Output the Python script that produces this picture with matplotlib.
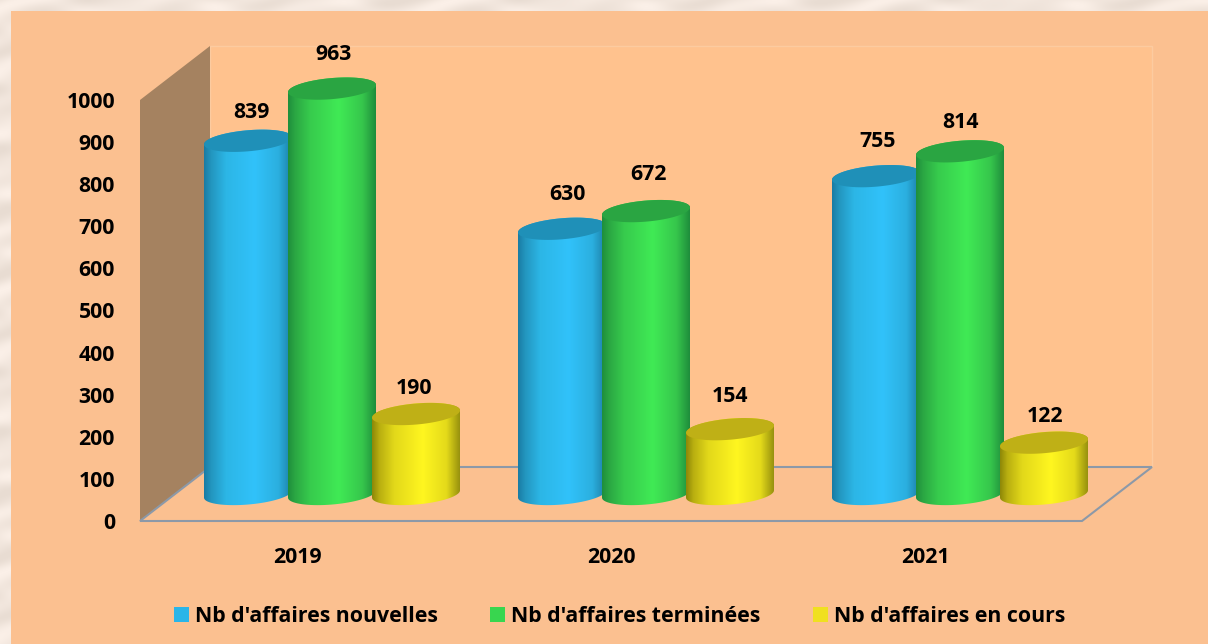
import numpy as np
import matplotlib
matplotlib.use("Agg")
import matplotlib.pyplot as plt
from matplotlib.colors import LinearSegmentedColormap
from matplotlib.patches import Patch, PathPatch, Polygon, Rectangle
from matplotlib.path import Path
from matplotlib.transforms import Affine2D

# ---- data ----
years = ["2019", "2020", "2021"]
series_names = ["Nb d'affaires nouvelles", "Nb d'affaires terminées", "Nb d'affaires en cours"]
nouvelles = [839, 630, 755]
terminees = [963, 672, 814]
en_cours = [190, 154, 122]
y_ticks = [0, 100, 200, 300, 400, 500, 600, 700, 800, 900, 1000]

# ---- style ----
W, H = 1208, 644
plt.rcParams["font.family"] = ["Open Sans", "DejaVu Sans"]
plt.rcParams["font.weight"] = "bold"
FS = 15.3
PANEL = "#FBC090"
BACK = "#FFC28E"
WALL = "#A58260"
EDGE = "#8C99A8"
stops = [0.0, 0.08, 0.25, 0.58, 0.85, 1.0]
body_colors = [
    ["#1A7CA4", "#2396BF", "#2CB6E6", "#31C2FA", "#2BAFDF", "#1C7FA6"],
    ["#1F8F3C", "#2BA743", "#37CB4D", "#40EA55", "#36C64C", "#1F8E3C"],
    ["#8E8808", "#B8AE10", "#E2D81A", "#FFF620", "#E4DA1A", "#98920E"],
]
top_colors = ["#1F90B8", "#2AA542", "#BFB016"]
swatch_colors = ["#2AB5E8", "#38D64F", "#F0E020"]

# plot planes in pixels (left, right, bottom, top) and depth of the box
L, R, B, T = 140, 1082, 521, 100
DX, DY = 70, 54


def plane_axes(fig, dx, dy):
    ax = fig.add_axes([(L + dx) / W, 1 - (B - dy) / H, (R - L) / W, (B - T) / H])
    ax.set_xlim(-0.5, 2.5)
    ax.set_ylim(0, 1000)
    ax.patch.set_alpha(0)
    for s in ax.spines.values():
        s.set_visible(False)
    return ax


fig = plt.figure(figsize=(W / 100, H / 100), dpi=100)
fig.patch.set_facecolor("#F4E8DF")
px = Affine2D().scale(1 / W, -1 / H).translate(0, 1) + fig.transFigure

# mottled paper frame
bg = fig.add_axes([0, 0, 1, 1], zorder=-10)
yy, xx = np.mgrid[0:H, 0:W]
tex = np.sin(xx / 17.0 + np.sin(yy / 9.0) * 2) + np.sin(yy / 5.0 + np.sin(xx / 23.0) * 2)
bg.imshow(tex, cmap=LinearSegmentedColormap.from_list("p", ["#E8DCD2", "#FBF0E8"]), aspect="auto")
bg.axis("off")
bg.add_patch(Rectangle((10, 10), W, H, facecolor=PANEL, edgecolor="none"))

# box: back wall, side wall, floor
chrome = [
    Polygon([(L + DX, T - DY), (R + DX, T - DY), (R + DX, B - DY), (L + DX, B - DY)],
            closed=True, facecolor=BACK, edgecolor="#FCCBA0", lw=1, transform=px, zorder=-5),
    Polygon([(L, B), (L, T), (L + DX, T - DY), (L + DX, B - DY)],
            closed=True, facecolor=WALL, edgecolor="none", transform=px, zorder=-4),
    Polygon([(L, B), (R, B), (R + DX, B - DY), (L + DX, B - DY)],
            closed=True, facecolor=PANEL, edgecolor=EDGE, lw=1.5, transform=px, zorder=-3),
]
for p in chrome:
    fig.add_artist(p)

# front plane carries the axis labels
ax = plane_axes(fig, 0, 0)
ax.set_xticks(range(len(years)), years)
ax.set_yticks(y_ticks)
ax.tick_params(axis="x", length=0, pad=19, labelsize=FS)
ax.tick_params(axis="y", length=0, pad=18, labelsize=FS)

# cylinders stand half way into the box
bars = plane_axes(fig, DX / 2, DY / 2)
bars.set_xticks([])
bars.set_yticks([])
ux = (R - L) / 3.0      # pixels per category
uy = (B - T) / 1000.0   # pixels per value unit
STEP = 84.0 / ux
HALF_W = 44.0
HALF_H = 10.5
TILT = np.radians(5.0)


def ellipse_pts(xc, v, t):
    ex = HALF_W * np.cos(t) / np.cos(TILT)
    ey = HALF_H * np.sin(t)
    x = ex * np.cos(TILT) - ey * np.sin(TILT)
    y = ex * np.sin(TILT) + ey * np.cos(TILT)
    return np.column_stack([xc + x / ux, v + y / uy])


all_series = [nouvelles, terminees, en_cours]
label_dx = [[2.6, 3.8, 0.8], [1.4, 2.0, 0.2], [-1.2, 0.0, 1.0]]
label_dy = [[20.4, 24.7, 24.7], [24.7, 26.2, 20.4], [18.2, 23.3, 19.0]]
for s, values in enumerate(all_series):
    cmap = LinearSegmentedColormap.from_list(f"c{s}", list(zip(stops, body_colors[s])))
    grad = np.linspace(0, 1, 128).reshape(1, -1)
    for c, v in enumerate(values):
        xc = c + (s - 1) * STEP
        low = ellipse_pts(xc, 0, np.linspace(np.pi, 2 * np.pi, 40))
        high = ellipse_pts(xc, v, np.linspace(0, np.pi, 40))
        body = PathPatch(Path(np.vstack([low, high, low[:1]]), closed=True),
                         facecolor="none", edgecolor="none", zorder=2 + s,
                         transform=bars.transData)
        bars.add_patch(body)
        im = bars.imshow(grad, cmap=cmap, aspect="auto", zorder=2 + s,
                         extent=(xc - HALF_W / ux, xc + HALF_W / ux, -40, v + 40))
        im.set_clip_path(body)
        im.set_clip_box(fig.bbox)
        top = Polygon(ellipse_pts(xc, v, np.linspace(0, 2 * np.pi, 80)), closed=True,
                      facecolor=top_colors[s], edgecolor="none", zorder=2 + s, clip_on=False)
        bars.add_patch(top)
        bars.annotate(str(v), (xc, v), xytext=(label_dx[s][c], label_dy[s][c]),
                      textcoords="offset points", ha="center", va="center",
                      fontsize=FS, fontweight="bold", color="black",
                      annotation_clip=False, zorder=10)
bars.set_xlim(-0.5, 2.5)
bars.set_ylim(0, 1000)

handles = [Patch(facecolor=col, edgecolor="none", label=n) for col, n in zip(swatch_colors, series_names)]
fig.legend(handles=handles, ncol=3, loc="center", bbox_to_anchor=(619.5 / W, 1 - 616 / H),
           frameon=False, fontsize=FS, handlelength=0.7, handleheight=0.7,
           handletextpad=0.3, columnspacing=2.45)

fig.savefig("out.png", dpi=100, facecolor=fig.get_facecolor())
